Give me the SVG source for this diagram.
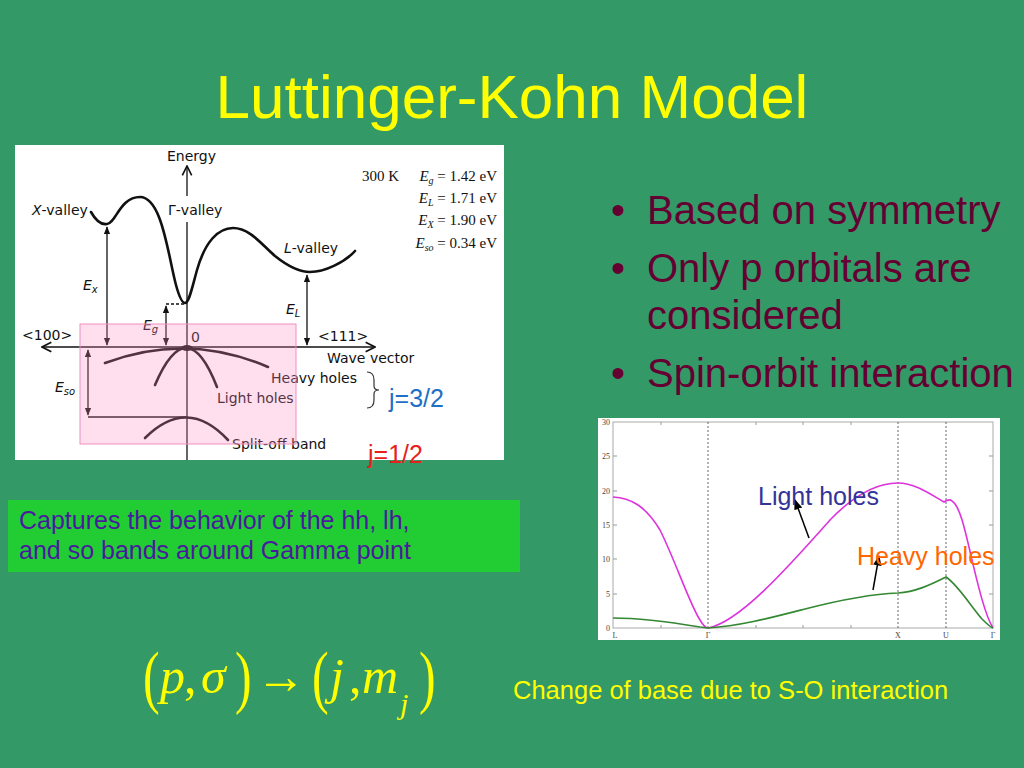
<svg xmlns="http://www.w3.org/2000/svg" width="1024" height="768" viewBox="0 0 1024 768">
<defs>
<style>
.title{font-family:"Liberation Sans",Arial,sans-serif;font-size:62px;fill:#ffff00}
.bul{font-family:"Liberation Sans",Arial,sans-serif;font-size:40px;fill:#660033}
.cap{font-family:"Liberation Sans",Arial,sans-serif;font-size:25px}
.fl{font-family:"DejaVu Sans",sans-serif;font-size:14px;fill:#111}
.tb{font-family:"Liberation Serif","Times New Roman",serif;font-size:15px;fill:#111}
.ax{font-family:"Liberation Serif","Times New Roman",serif;font-size:8px;fill:#444}
.fm{font-family:"Liberation Serif","Times New Roman",serif;fill:#ffff00}
.curve{fill:none;stroke:#111;stroke-width:2.6;stroke-linecap:round}
.thin{fill:none;stroke:#111;stroke-width:1.3}
</style>
<marker id="ah" viewBox="0 0 10 10" refX="9" refY="5" markerWidth="6" markerHeight="6" orient="auto-start-reverse"><path d="M0,1 L10,5 L0,9 z" fill="#111"/></marker>
<marker id="open" viewBox="0 0 10 10" refX="9" refY="5" markerWidth="9" markerHeight="9" orient="auto-start-reverse"><path d="M1,1 L9,5 L1,9" fill="none" stroke="#111" stroke-width="1.4"/></marker>
<marker id="pa" viewBox="0 0 10 10" refX="9" refY="5" markerWidth="7" markerHeight="7" orient="auto"><path d="M0,1 L10,5 L0,9 z" fill="#000"/></marker>
</defs>
<rect x="0" y="0" width="1024" height="768" fill="#339966"/>
<text class="title" x="512" y="118" text-anchor="middle">Luttinger-Kohn Model</text>

<g id="bullets">
<text class="bul" x="611" y="224">•</text><text class="bul" x="647" y="224">Based on symmetry</text>
<text class="bul" x="611" y="282">•</text><text class="bul" x="647" y="282">Only p orbitals are</text>
<text class="bul" x="647" y="329">considered</text>
<text class="bul" x="611" y="387">•</text><text class="bul" x="647" y="387">Spin-orbit interaction</text>
</g>

<g id="band-figure">
<rect x="15" y="145" width="489" height="315" fill="#ffffff"/>
<text class="fl" x="167" y="161">Energy</text>
<line class="thin" x1="187" y1="196" x2="187" y2="166" marker-end="url(#open)"/>
<line class="thin" x1="187" y1="222" x2="187" y2="460"/>
<text class="fl" x="32" y="215"><tspan font-style="italic">X</tspan>-valley</text>
<text class="fl" x="168" y="215">Γ-valley</text>
<text class="fl" x="284" y="253"><tspan font-style="italic">L</tspan>-valley</text>
<path class="curve" d="M91,212 C96,221 101,225 107,224 C116,223 120,197 140,197 C162,197 168,255 176,285 C179,296 182,303 185,303 C189,303 192,288 197,270 C205,242 218,228 233,228 C250,228 262,245 275,256 C290,268 300,272 310,272 C325,272 345,262 355,251"/>
<line class="thin" x1="42" y1="347" x2="375" y2="347" marker-start="url(#open)" marker-end="url(#open)"/>
<line class="thin" x1="107" y1="227" x2="107" y2="345" marker-start="url(#ah)" marker-end="url(#ah)"/>
<line class="thin" x1="307" y1="275" x2="307" y2="345" marker-start="url(#ah)" marker-end="url(#ah)"/>
<line class="thin" x1="166" y1="306" x2="166" y2="345" marker-start="url(#ah)" marker-end="url(#ah)"/>
<line class="thin" x1="166" y1="304" x2="185" y2="304" stroke-dasharray="3,2"/>
<line class="thin" x1="88" y1="350" x2="88" y2="415" marker-start="url(#ah)" marker-end="url(#ah)"/>
<line class="thin" x1="88" y1="417" x2="187" y2="417"/>
<path class="curve" d="M105,363 Q187,332 268,367"/>
<path class="curve" d="M155,385 Q187,310 217,387"/>
<path class="curve" d="M145,438 Q187,396 228,440"/>
<ellipse cx="187" cy="348" rx="6" ry="3" fill="#111"/>
<text class="fl" x="83" y="290" font-style="italic">E<tspan font-size="10" dy="3">x</tspan></text>
<text class="fl" x="143" y="330" font-style="italic">E<tspan font-size="10" dy="3">g</tspan></text>
<text class="fl" x="286" y="314" font-style="italic">E<tspan font-size="10" dy="3">L</tspan></text>
<text class="fl" x="55" y="392" font-style="italic">E<tspan font-size="10" dy="3">so</tspan></text>
<text class="fl" x="191" y="342">0</text>
<text class="fl" x="22" y="340">&lt;100&gt;</text>
<text class="fl" x="318" y="341">&lt;111&gt;</text>
<text class="fl" x="327" y="363">Wave vector</text>
<text class="fl" x="271" y="383">Heavy holes</text>
<text class="fl" x="217" y="403">Light holes</text>
<text class="fl" x="232" y="449">Split-off band</text>
<text class="tb" x="362" y="181">300 K</text>
<text class="tb" x="497" y="181" text-anchor="end"><tspan font-style="italic">E</tspan><tspan font-style="italic" font-size="10" dy="3">g</tspan><tspan dy="-3"> = 1.42 eV</tspan></text>
<text class="tb" x="497" y="203" text-anchor="end"><tspan font-style="italic">E</tspan><tspan font-style="italic" font-size="10" dy="3">L</tspan><tspan dy="-3"> = 1.71 eV</tspan></text>
<text class="tb" x="497" y="225" text-anchor="end"><tspan font-style="italic">E</tspan><tspan font-style="italic" font-size="10" dy="3">X</tspan><tspan dy="-3"> = 1.90 eV</tspan></text>
<text class="tb" x="497" y="248" text-anchor="end"><tspan font-style="italic">E</tspan><tspan font-style="italic" font-size="10" dy="3">so</tspan><tspan dy="-3"> = 0.34 eV</tspan></text>
<rect x="80" y="324" width="216" height="120" fill="#ff88c0" fill-opacity="0.28" stroke="#ee90c0" stroke-width="1"/>
<path d="M367,372 Q374,372 374,380 L374,386 Q374,390 379,390 Q374,390 374,394 L374,400 Q374,408 367,408" fill="none" stroke="#333" stroke-width="1.2"/>
</g>

<text class="cap" x="389" y="407" fill="#1f6fc6">j=3/2</text>
<text class="cap" x="368" y="463" fill="#e8201a">j=1/2</text>

<g id="caption-box">
<rect x="8" y="500" width="512" height="72" fill="#22cc33"/>
<text class="cap" x="19" y="529" fill="#4a1a9e">Captures the behavior of the hh, lh,</text>
<text class="cap" x="19" y="559" fill="#4a1a9e">and so bands around Gamma point</text>
</g>

<g id="dispersion-plot">
<rect x="598" y="418" width="402" height="222" fill="#ffffff"/>
<rect x="613" y="422" width="380" height="206" fill="none" stroke="#aaa" stroke-width="1"/>
<g stroke="#999" stroke-width="1">
<line x1="613" y1="456" x2="617" y2="456"/><line x1="613" y1="491" x2="617" y2="491"/><line x1="613" y1="525" x2="617" y2="525"/><line x1="613" y1="559" x2="617" y2="559"/><line x1="613" y1="594" x2="617" y2="594"/>
<line x1="989" y1="456" x2="993" y2="456"/><line x1="989" y1="491" x2="993" y2="491"/><line x1="989" y1="525" x2="993" y2="525"/><line x1="989" y1="559" x2="993" y2="559"/><line x1="989" y1="594" x2="993" y2="594"/>
<line x1="661" y1="422" x2="661" y2="425"/><line x1="756" y1="422" x2="756" y2="425"/><line x1="803" y1="422" x2="803" y2="425"/><line x1="851" y1="422" x2="851" y2="425"/>
<line x1="661" y1="628" x2="661" y2="625"/><line x1="756" y1="628" x2="756" y2="625"/><line x1="803" y1="628" x2="803" y2="625"/><line x1="851" y1="628" x2="851" y2="625"/>
</g>
<g stroke="#555" stroke-width="0.9" stroke-dasharray="2,2">
<line x1="708" y1="422" x2="708" y2="628"/><line x1="898" y1="422" x2="898" y2="628"/><line x1="946" y1="422" x2="946" y2="628"/>
</g>
<text class="ax" x="610" y="425" text-anchor="end">30</text>
<text class="ax" x="610" y="459" text-anchor="end">25</text>
<text class="ax" x="610" y="494" text-anchor="end">20</text>
<text class="ax" x="610" y="528" text-anchor="end">15</text>
<text class="ax" x="610" y="562" text-anchor="end">10</text>
<text class="ax" x="610" y="597" text-anchor="end">5</text>
<text class="ax" x="610" y="631" text-anchor="end">0</text>
<text class="ax" x="615" y="638" text-anchor="middle">L</text>
<text class="ax" x="708" y="638" text-anchor="middle">Γ</text>
<text class="ax" x="898" y="638" text-anchor="middle">X</text>
<text class="ax" x="946" y="638" text-anchor="middle">U</text>
<text class="ax" x="993" y="638" text-anchor="middle">Γ</text>
<path d="M613,497 C630,498 645,505 660,530 C675,560 690,605 700,620 C703,625 706,628 708,628 C740,622 790,565 830,520 C855,494 878,483 898,483 C915,483 930,494 944,502 C947,500 950,499 952,501 C960,506 965,530 972,560 C978,585 985,615 993,628" fill="none" stroke="#dd33dd" stroke-width="1.6"/>
<path d="M613,618 C640,618 670,622 700,627 L708,628 C740,626 770,618 805,609 C840,600 870,594 898,593 C915,592 930,585 946,577 C958,585 970,605 982,619 C987,624 990,627 993,628" fill="none" stroke="#338833" stroke-width="1.6"/>
<line x1="809" y1="538" x2="795" y2="500" stroke="#000" stroke-width="1.5" marker-end="url(#pa)"/>
<line x1="873" y1="590" x2="879" y2="556" stroke="#000" stroke-width="1.5" marker-end="url(#pa)"/>
<text class="cap" x="758" y="505" fill="#333399">Light holes</text>
<text class="cap" x="857" y="565" fill="#ff6600">Heavy holes</text>
</g>

<g id="formula">
<text class="fm" transform="translate(143,700) scale(1,1.4)" font-size="50">(</text>
<text class="fm" x="160" y="693" font-size="50" font-style="italic">p</text>
<text class="fm" x="184" y="693" font-size="50">,</text>
<text class="fm" x="201" y="693" font-size="50" font-style="italic">σ</text>
<text class="fm" transform="translate(235,700) scale(1,1.4)" font-size="50">)</text>
<text class="fm" x="256" y="693" font-size="50">→</text>
<text class="fm" transform="translate(312,700) scale(1,1.4)" font-size="50">(</text>
<text class="fm" x="330" y="693" font-size="50" font-style="italic">j</text>
<text class="fm" x="349" y="693" font-size="50">,</text>
<text class="fm" x="362" y="693" font-size="50" font-style="italic">m</text>
<text class="fm" x="400" y="714" font-size="30" font-style="italic">j</text>
<text class="fm" transform="translate(419,700) scale(1,1.4)" font-size="50">)</text>
</g>
<text class="cap" x="513" y="699" fill="#ffff00" style="font-size:25.5px">Change of base due to S-O interaction</text>
</svg>
